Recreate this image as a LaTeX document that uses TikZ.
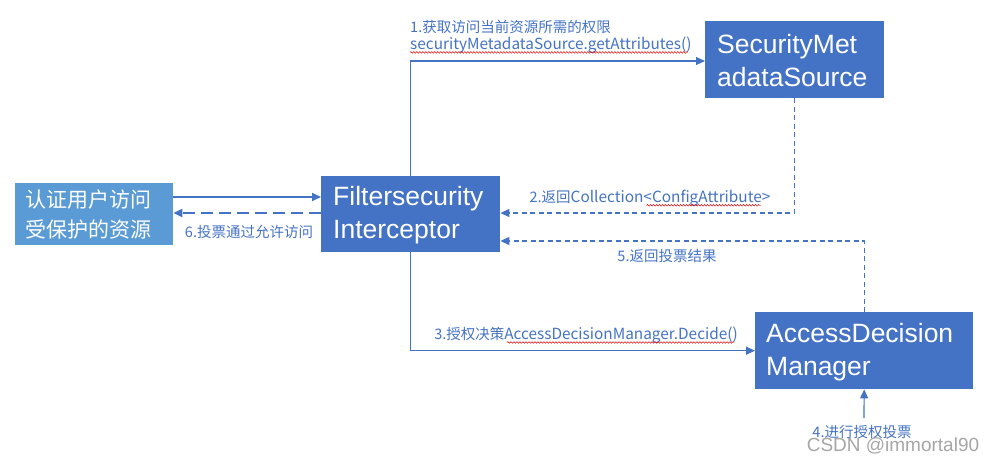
\documentclass[tikz,border=0pt]{standalone}
\usepackage{fontspec}
\setmainfont{Liberation Sans}
\newfontfamily\cjk{Noto Sans CJK SC}
\newfontfamily\latn[Scale=1.06]{Noto Sans CJK SC}
\usetikzlibrary{arrows.meta,decorations.pathmorphing,calc}
\definecolor{boxblue}{HTML}{4472C4}
\definecolor{lightblue}{HTML}{5B9BD5}
\definecolor{lineblue}{HTML}{4472C4}
\definecolor{wm}{RGB}{150,150,150}
\begin{document}
\begin{tikzpicture}[x=1pt,y=-1pt,
  box/.style={fill=boxblue,draw=none,anchor=north west,inner sep=0pt},
  userbox/.style={fill=lightblue,draw=none,anchor=north west,inner sep=0pt},
  boxtext/.style={anchor=west,inner sep=0pt,text=white,font=\fontsize{26.5}{33}\selectfont,align=left},
  lbl/.style={text=lineblue,inner sep=0pt,font=\cjk\fontsize{14.5}{19}\selectfont},
  flow/.style={draw=lineblue,line width=1.2pt,-{Triangle[length=9pt,width=8pt]}},
  back/.style={flow,dash pattern=on 5pt off 3.5pt},
  squiggle/.style={draw=red!85!black,line width=0.5pt,decorate,
    decoration={snake,amplitude=0.8pt,segment length=3pt}}
]
\useasboundingbox (0,0) rectangle (998,463);
% boxes
\node[userbox,minimum width=158,minimum height=62] (user) at (15,183) {};
\node[boxtext,font=\cjk\fontsize{21}{30}\selectfont] (usertxt) at (25,214) {认证用户访问\\受保护的资源};
\node[box,minimum width=179,minimum height=76] (fsi) at (321,176) {};
\node[boxtext] (fsitxt) at (333,215) {Filtersecurity\\Interceptor};
\node[box,minimum width=179,minimum height=77] (sms) at (705,21) {};
\node[boxtext] (smstxt) at (717,61) {SecurityMet\\adataSource};
\node[box,minimum width=218,minimum height=77] (adm) at (755,312) {};
\node[boxtext] (admtxt) at (766,352) {AccessDecision\\Manager};
% connectors
\draw[flow,line width=2pt] (user.east |- 0,197) -- (fsi.west |- 0,197);
\draw[flow,line width=2pt,dash pattern=on 12pt off 6pt] (fsi.west |- 0,213) -- (user.east |- 0,213);
\draw[flow] (fsi.north) |- (sms.west |- 0,61);
\draw[back] (sms.south) |- (fsi.east |- 0,213);
\draw[back] (adm.north) |- (fsi.east |- 0,241);
\draw[flow] (fsi.south) |- (adm.west);
\coordinate (vote) at (864,418);
\draw[flow] (vote) -- (adm.south);
% labels
\node[lbl,anchor=west] (l1a) at (410,27) {1.获取访问当前资源所需的权限};
\node[lbl,anchor=west] (l1b) at (410,45) {\latn securityMetadataSource.getAttributes()};
\node[lbl] (l2) at (650,198) {2.返回{\latn Collection<ConfigAttribute>}};
\node[lbl] (l5) at (667,256) {5.返回投票结果};
\node[lbl] (l6) at (249,232) {6.投票通过允许访问};
\node[lbl] (l3) at (586,335) {3.授权决策{\latn AccessDecisionManager.Decide()}};
\node[lbl] (l4) at (862,432) {4.进行授权投票};
\node[text=wm,inner sep=0pt,font=\fontsize{19}{22}\selectfont,opacity=0.85] (wmk) at (893,446) {CSDN @immortal90};
% spell-check squiggles
\draw[squiggle] (l1b.south west) ++(0,-1) -- ++(278,0);
\draw[squiggle] ($(l2.south east)+(-124,-1)$) -- ($(l2.south east)+(-10,-1)$);
\draw[squiggle] ($(l3.south west)+(73,-1)$) -- ($(l3.south east)+(-4,-1)$);
\end{tikzpicture}
\end{document}
